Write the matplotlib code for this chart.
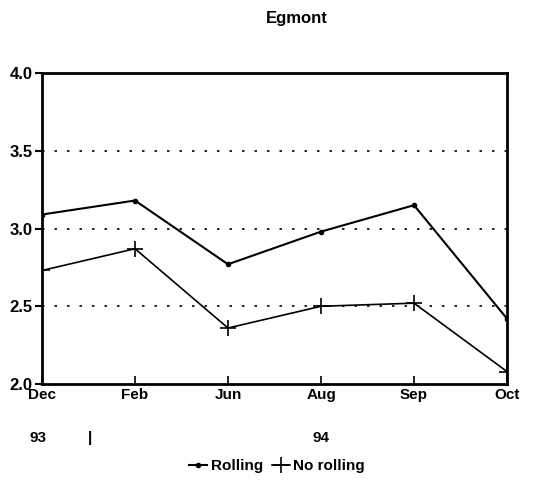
import matplotlib
matplotlib.use("Agg")
import matplotlib.pyplot as plt
from matplotlib.transforms import blended_transform_factory

months = ["Dec", "Feb", "Jun", "Aug", "Sep", "Oct"]
rolling = [3.09, 3.18, 2.77, 2.98, 3.15, 2.42]
no_rolling = [2.73, 2.87, 2.36, 2.50, 2.52, 2.08]
year_labels = [(-0.04, "93"), (0.52, "|"), (3, "94")]

plt.rcParams["font.family"] = ["Liberation Sans", "DejaVu Sans"]
plt.rcParams["font.weight"] = "bold"

fig = plt.figure(figsize=(5.54, 4.91), dpi=100)
ax = fig.add_axes([0.0758, 0.2179, 0.8394, 0.6334])

x = list(range(len(months)))
ax.plot(x, rolling, color="black", lw=1.5, marker="o", markersize=3, label="Rolling")
ax.plot(x, no_rolling, color="black", lw=1.2, marker="+", markersize=12, markeredgewidth=1.2,
        label="No rolling")

for y in [2.5, 3.0, 3.5]:
    ax.axhline(y, color="black", lw=1.2, ls=(0, (1.5, 6)), zorder=0)

ax.set_xlim(0, 5)
ax.set_ylim(2.0, 4.0)
ax.set_yticks([2.0, 2.5, 3.0, 3.5, 4.0])
ax.set_yticklabels(["2.0", "2.5", "3.0", "3.5", "4.0"], fontsize=12, fontweight="heavy")
ax.set_xticks(x)
ax.set_xticklabels(months, fontsize=11, fontweight="heavy")
ax.tick_params(axis="x", direction="in", length=6, width=1.2, pad=3)
ax.tick_params(axis="y", direction="out", length=5, width=1.5, pad=2)
for s in ax.spines.values():
    s.set_linewidth(2)

trans = blended_transform_factory(ax.transData, ax.transAxes)
for xp, lab in year_labels:
    ax.text(xp, -0.175, lab, transform=trans, ha="center", va="center", fontsize=11,
            fontweight="heavy", clip_on=False)

fig.text(0.535, 0.963, "Egmont", ha="center", va="center", fontsize=12, fontweight="heavy")

fig.legend(loc="center", bbox_to_anchor=(0.5, 0.05), ncol=2, frameon=False,
           handlelength=1.2, handletextpad=0.2, columnspacing=0.6,
           prop={"size": 11, "weight": "heavy"})

fig.savefig("out.png", dpi=100)
